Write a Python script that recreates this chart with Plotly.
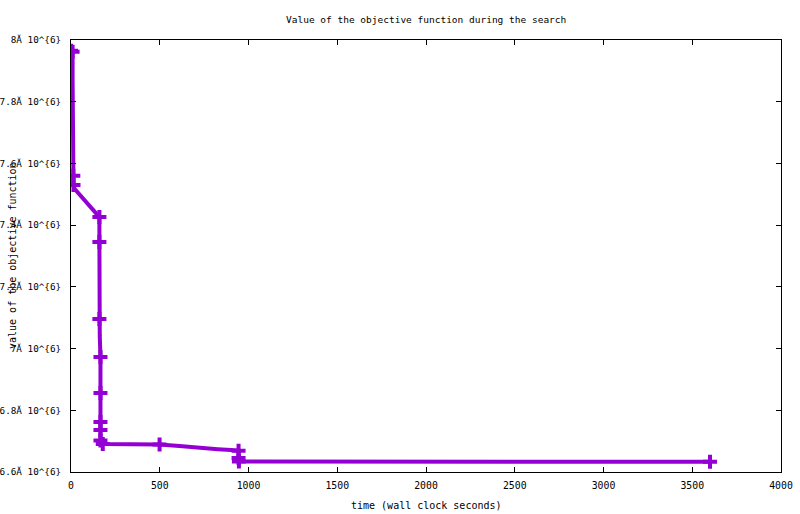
import plotly.graph_objects as go

# search trace: wall clock time (s) vs objective value
time_s = [0, 9, 9, 10, 13, 14, 20, 160, 160, 160, 162, 166, 166, 166, 166, 166,
          179, 339, 499, 611, 677, 752, 827, 902, 944, 944, 946, 3600]
objective = [7.965e6, 7.962e6, 7.870e6, 7.669e6, 7.560e6, 7.530e6, 7.518e6,
             7.426e6, 7.345e6, 7.096e6, 7.041e6, 6.973e6, 6.856e6, 6.762e6,
             6.736e6, 6.702e6, 6.691e6, 6.6885e6, 6.689e6, 6.684e6, 6.680e6,
             6.677e6, 6.674e6, 6.671e6, 6.669e6, 6.645e6, 6.634e6, 6.633e6]

# points where an improvement was recorded (drawn with a cross)
mark_time = [0, 9, 13, 14, 160, 160, 160, 166, 166, 166, 166, 166, 179, 499,
             944, 944, 946, 3600]
mark_obj = [7.965e6, 7.962e6, 7.560e6, 7.530e6, 7.426e6, 7.345e6, 7.096e6,
            6.973e6, 6.856e6, 6.762e6, 6.736e6, 6.702e6, 6.691e6, 6.689e6,
            6.669e6, 6.645e6, 6.634e6, 6.633e6]

x_ticks = [0, 500, 1000, 1500, 2000, 2500, 3000, 3500, 4000]
y_ticks = [6.6e6, 6.8e6, 7.0e6, 7.2e6, 7.4e6, 7.6e6, 7.8e6, 8.0e6]
y_tick_text = ["6.6Ă 10^{6}", "6.8Ă 10^{6}", "7Ă 10^{6}", "7.2Ă 10^{6}",
               "7.4Ă 10^{6}", "7.6Ă 10^{6}", "7.8Ă 10^{6}", "8Ă 10^{6}"]

purple = "#9400d3"
mono = "DejaVu Sans Mono"
xtick_font = dict(family=mono, size=9.8, color="black")
ytick_font = dict(family=mono, size=9.3, color="black")
label_font = dict(family=mono, size=10, color="black")
title_font = dict(family=mono, size=9.5, color="black")

fig = go.Figure()
fig.add_trace(go.Scatter(x=time_s, y=objective, mode="lines",
                         line=dict(color=purple, width=4), hoverinfo="skip"))
fig.add_trace(go.Scatter(x=mark_time, y=mark_obj, mode="markers",
                         marker=dict(symbol="cross-thin", size=10,
                                     line=dict(color=purple, width=4))))

axis_common = dict(showgrid=False, zeroline=False, showline=True,
                   linecolor="black", linewidth=1, mirror="allticks",
                   ticks="inside", ticklen=5, tickcolor="black",
                   automargin=False)

fig.update_xaxes(range=[0, 4000], tickvals=x_ticks, ticklabelstandoff=4,
                 tickfont=xtick_font, **axis_common)
fig.update_yaxes(range=[6.6e6, 8.0e6], tickvals=y_ticks, ticktext=y_tick_text,
                 ticklabelstandoff=7, tickfont=ytick_font, **axis_common)

fig.add_annotation(text="Value of the objective function during the search",
                   xref="paper", yref="paper", x=0.5, y=1, yshift=21,
                   xanchor="center", yanchor="middle", showarrow=False,
                   font=title_font)
fig.add_annotation(text="time (wall clock seconds)",
                   xref="paper", yref="paper", x=0.5, y=0, yshift=-33,
                   xanchor="center", yanchor="middle", showarrow=False,
                   font=label_font)
fig.add_annotation(text="value of the objective function",
                   xref="paper", yref="paper", x=0, y=0.5, xshift=-59,
                   xanchor="center", yanchor="middle", textangle=-90,
                   showarrow=False, font=label_font)

fig.update_layout(width=800, height=514, showlegend=False,
                  paper_bgcolor="white", plot_bgcolor="white",
                  margin=dict(l=71, r=19, t=40, b=42, autoexpand=False))

# drop the default 8px body margin so the figure sits at the page corner
fig.write_html("out.html", config={"displayModeBar": False},
               post_script="document.body.style.margin='0';")
